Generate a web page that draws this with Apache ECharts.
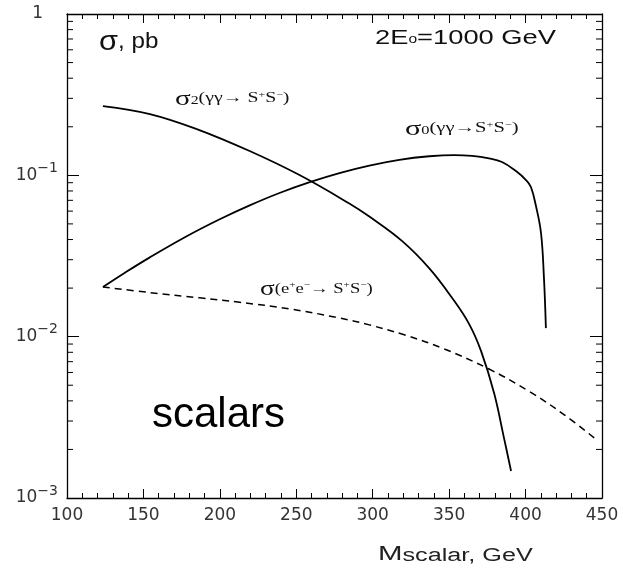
<!DOCTYPE html>
<html><head><meta charset="utf-8">
<script src="https://cdn.jsdelivr.net/npm/echarts@6/dist/echarts.min.js"></script>
<style>html,body{margin:0;padding:0;background:#fff}#c{width:623px;height:568px}</style>
</head><body><div id="c"></div>
<script>
// ---- data ----
const sigma0M = [123.5,137.9,154.2,178.3,199.9,219.5,239.0,259.3,278.2,297.8,317.4,337.0,353.3,365.0,376.1,384.6,393.7,400.3,403.5,406.8,410.1,412.0,413.3];
const sigma0V = [0.0203,0.0249,0.0310,0.0419,0.0534,0.0651,0.0777,0.0910,0.1033,0.1150,0.1248,0.1313,0.1336,0.1321,0.1274,0.1209,0.1063,0.0935,0.0846,0.0645,0.0439,0.0234,0.0113];
const sigma2M = [123.5,154.2,184.9,219.5,252.1,284.7,297.8,319.3,336.9,352.0,363.1,370.9,379.4,385.9,390.5];
const sigma2V = [0.2689,0.2399,0.1936,0.1415,0.1004,0.0669,0.0555,0.0391,0.0266,0.01735,0.01197,0.00814,0.00447,0.00235,0.00147];
const sigmaEeM = [123.5,154.2,186.8,212.9,245.6,278.2,297.8,320.6,345.4,376.1,402.2,425.1,446.6];
const sigmaEeV = [0.0203,0.01877,0.01740,0.01634,0.01485,0.01306,0.01183,0.01027,0.00850,0.00630,0.00459,0.00329,0.00229];
const xTicks = [100,150,200,250,300,350,400,450];
const yDecades = [0.001,0.01,0.1,1];
const yMinorTicks = [];
for (let d = 0.001; d < 1; d *= 10) for (let k = 2; k <= 9; k++) yMinorTicks.push(+(k*d).toPrecision(3));

const zip = (a,b) => a.map((v,i)=>[v,b[i]]);
const chart = echarts.init(document.getElementById('c'), null, {renderer:'canvas'});
const FONT = 'Liberation Sans';
const SERIF = 'Liberation Serif';
const lineStyleBase = {color:'#000', width:1.8};

const xAxisCommon = {
  type:'value', min:xTicks[0], max:xTicks[xTicks.length-1], interval:50,
  axisLine:{show:true, onZero:false, lineStyle:{color:'#000', width:1.3}},
  axisTick:{show:true, inside:true, length:9, lineStyle:{color:'#000'}},
  minorTick:{show:true, splitNumber:5, length:5, lineStyle:{color:'#000'}},
  splitLine:{show:false}, minorSplitLine:{show:false}
};
const yAxisCommon = {
  type:'log', logBase:10, min:yDecades[0], max:yDecades[yDecades.length-1],
  axisLine:{show:true, onZero:false, lineStyle:{color:'#000', width:1.3}},
  axisTick:{show:true, inside:true, length:12, lineStyle:{color:'#000'}},
  splitLine:{show:false}
};
const labRich = () => ({
  g:{fontFamily:SERIF, fontSize:22, fill:'#111', padding:[0,0,4,0]},
  m:{fontFamily:SERIF, fontSize:15, fill:'#111', padding:[0,0,5,0]},
  sub:{fontFamily:SERIF, fontSize:12, fill:'#111'},
  sup:{fontFamily:SERIF, fontSize:9, fill:'#111', padding:[0,0,12,0]}
});

chart.setOption({
  animation:false,
  backgroundColor:'#fff',
  grid:{left:67, right:21, top:14, bottom:70, containLabel:false},
  xAxis:[
    Object.assign({}, xAxisCommon, {position:'bottom',
      axisLabel:{show:true, margin:9, fontFamily:'DejaVu Sans', fontSize:17, color:'#333'}}),
    Object.assign({}, xAxisCommon, {position:'top', axisLabel:{show:false}})
  ],
  yAxis:[
    Object.assign({}, yAxisCommon, {position:'left',
      axisLabel:{show:true, margin:9,
        formatter: v => { const e = Math.round(Math.log10(v)); return e === 0 ? '{one|1}' : '{b|10}{s|\u2212' + (-e) + '}'; },
        rich:{
          b:{fontFamily:'DejaVu Sans', fontSize:17, color:'#333'},
          s:{fontFamily:'DejaVu Sans', fontSize:14, color:'#333', padding:[0,0,14,0]},
          one:{fontFamily:'DejaVu Sans', fontSize:17, color:'#333', padding:[0,15,0,0]}
        }}}),
    Object.assign({}, yAxisCommon, {position:'right', axisLabel:{show:false}})
  ],
  series:[
    {type:'line', name:'sigma2', data:zip(sigma2M, sigma2V), showSymbol:false, smooth:0.4, lineStyle:lineStyleBase},
    {type:'line', name:'sigma0', data:zip(sigma0M, sigma0V), showSymbol:false, smooth:0.4, lineStyle:lineStyleBase},
    {type:'line', name:'sigmaEe', data:zip(sigmaEeM, sigmaEeV), showSymbol:false, smooth:0.4,
      lineStyle:{color:'#000', width:1.5, type:[7,5]}},
    {type:'custom', name:'ytick', silent:true, data:yMinorTicks.map(v=>[xTicks[0], v]),
      renderItem:(params, api) => {
        const v = api.value(1);
        const pl = api.coord([xTicks[0], v]);
        const pr = api.coord([xTicks[xTicks.length-1], v]);
        return {type:'group', children:[
          {type:'line', shape:{x1:pl[0], y1:pl[1], x2:pl[0]+6, y2:pl[1]}, style:{stroke:'#000', lineWidth:1}},
          {type:'line', shape:{x1:pr[0]-6, y1:pr[1], x2:pr[0], y2:pr[1]}, style:{stroke:'#000', lineWidth:1}}
        ]};
      }}
  ],
  graphic:[
    {type:'text', x:99, y:28, scaleX:1.1, style:{
      text:'{g|\u03c3}{m|, pb}',
      rich:{g:{fontFamily:FONT, fontSize:28, fill:'#111'}, m:{fontFamily:FONT, fontSize:22, fill:'#111', padding:[0,0,1,0]}}}},
    {type:'text', x:375, y:28, scaleX:1.3, style:{
      text:'{m|2E}{sub|o}{m|=1000 GeV}',
      rich:{m:{fontFamily:FONT, fontSize:21, fill:'#111', padding:[0,0,3,0]}, sub:{fontFamily:FONT, fontSize:12, fill:'#111'}}}},
    {type:'text', x:175, y:88, scaleX:1.32, style:{
      text:'{g|\u03c3}{sub|2}{m|(\u03b3\u03b3\u2192 S}{sup|+}{m|S}{sup|\u2212}{m|)}', rich:labRich()}},
    {type:'text', x:405, y:118, scaleX:1.37, style:{
      text:'{g|\u03c3}{sub|0}{m|(\u03b3\u03b3\u2192S}{sup|+}{m|S}{sup|\u2212}{m|)}', rich:labRich()}},
    {type:'text', x:260, y:278, scaleX:1.24, style:{
      text:'{g|\u03c3}{m|(e}{sup|+}{m|e}{sup|\u2212}{m|\u2192 S}{sup|+}{m|S}{sup|\u2212}{m|)}',
      rich:{
        g:{fontFamily:SERIF, fontSize:22, fill:'#111', padding:[0,0,1,0]},
        m:{fontFamily:SERIF, fontSize:15, fill:'#111', padding:[0,0,1,0]},
        sup:{fontFamily:SERIF, fontSize:9, fill:'#111', padding:[0,0,9,0]}}}},
    {type:'text', x:152, y:394, style:{text:'scalars', fontFamily:FONT, fontSize:42, fill:'#000'}},
    {type:'text', x:378, y:543, scaleX:1.4, style:{
      text:'{big|M}{m|scalar, GeV}',
      rich:{big:{fontFamily:FONT, fontSize:21, fill:'#222'}, m:{fontFamily:FONT, fontSize:18, fill:'#222', padding:[4,0,0,0]}}}}
  ]
});
</script></body></html>
